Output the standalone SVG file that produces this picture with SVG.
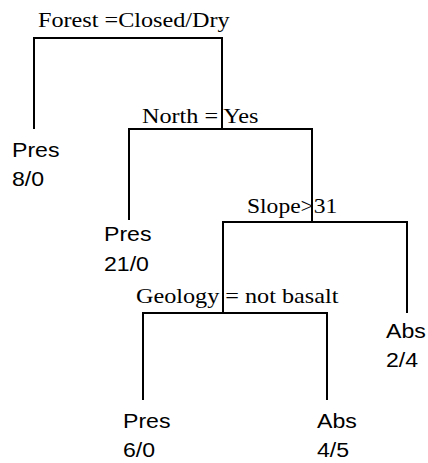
<svg xmlns="http://www.w3.org/2000/svg" width="428" height="463" viewBox="0 0 428 463">
<style>
.edge{fill:none;stroke:#000;stroke-width:2;stroke-linecap:butt;stroke-linejoin:miter}
.split{font-family:"Liberation Serif","Times New Roman",serif;font-size:22px;fill:#000}
.leaf{font-family:"Liberation Sans",Arial,sans-serif;font-size:21px;fill:#000}
</style>
<rect width="428" height="463" fill="#fff"/>
<g id="connectors">
<path class="edge" d="M34,129 V38 H222 V129"/>
<path class="edge" d="M129,220 V129 H312 V222"/>
<path class="edge" d="M223,313 V222 H407 V313"/>
<path class="edge" d="M143,400 V313 H327 V400"/>
</g>
<g id="split-forest"><text class="split" transform="translate(38,27) scale(1.1,1)">Forest =Closed/Dry</text></g>
<g id="split-north"><text class="split" transform="translate(142,123) scale(1.1,1)">North = Yes</text></g>
<g id="split-slope"><text class="split" transform="translate(247,213) scale(1.07,1)">Slope&gt;31</text></g>
<g id="split-geology"><text class="split" transform="translate(136,303) scale(1.1,1)">Geology = not basalt</text></g>
<g id="leaf-1"><text class="leaf" transform="translate(12,157) scale(1.1,1)"><tspan x="0" y="0">Pres</tspan><tspan x="0" y="29">8/0</tspan></text></g>
<g id="leaf-2"><text class="leaf" transform="translate(104,241) scale(1.1,1)"><tspan x="0" y="0">Pres</tspan><tspan x="0" y="30">21/0</tspan></text></g>
<g id="leaf-3"><text class="leaf" transform="translate(386,338) scale(1.1,1)"><tspan x="0" y="0">Abs</tspan><tspan x="0" y="29">2/4</tspan></text></g>
<g id="leaf-4"><text class="leaf" transform="translate(123,428) scale(1.1,1)"><tspan x="0" y="0">Pres</tspan><tspan x="0" y="29">6/0</tspan></text></g>
<g id="leaf-5"><text class="leaf" transform="translate(317,428) scale(1.1,1)"><tspan x="0" y="0">Abs</tspan><tspan x="0" y="29">4/5</tspan></text></g>
</svg>
